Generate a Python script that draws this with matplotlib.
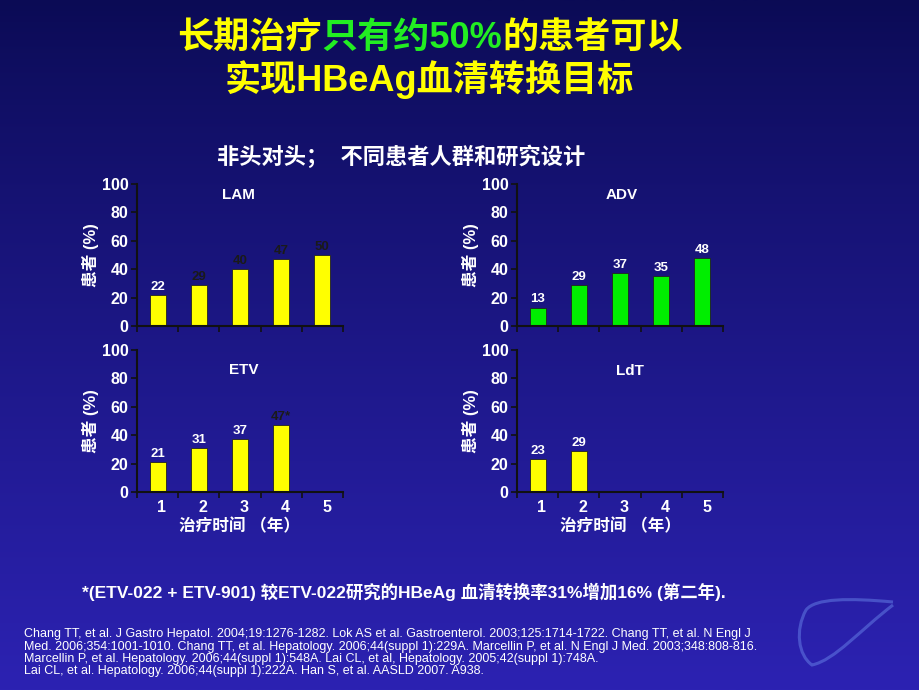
import matplotlib
matplotlib.use("Agg")
import matplotlib.pyplot as plt
import numpy as np
from matplotlib.path import Path
from matplotlib.patches import PathPatch

plt.rcParams['font.family'] = ['Liberation Sans', 'Noto Sans CJK SC', 'DejaVu Sans']
plt.rcParams['font.weight'] = 'bold'

# dados
anos = [1, 2, 3, 4, 5]
lam = [22, 29, 40, 47, 50]
adv = [13, 29, 37, 35, 48]
etv = [21, 31, 37, 47]
ldt = [23, 29]
lam_rot = ['22', '29', '40', '47', '50']
adv_rot = ['13', '29', '37', '35', '48']
etv_rot = ['21', '31', '37', '47*']
ldt_rot = ['23', '29']
lam_cor_rot = ['white', '#1a1a1a', '#1a1a1a', '#1a1a1a', '#1a1a1a']
etv_cor_rot = ['white', 'white', 'white', '#1a1a1a']

amarelo = '#ffff00'
verde = '#00ee00'

fig = plt.figure(figsize=(9.2, 6.9), dpi=100)

# fundo em degrade
bg = fig.add_axes([0, 0, 1, 1], zorder=-10)
grad = np.linspace(0, 1, 256).reshape(-1, 1)
top = np.array([11, 11, 85]) / 255
bot = np.array([44, 34, 178]) / 255
img = top + (bot - top) * grad[:, :, None] ** 0.9
bg.imshow(img, aspect='auto', extent=[0, 1, 0, 1], origin='upper')
bg.set_xlim(0, 1)
bg.set_ylim(0, 1)
bg.axis('off')

# desenho do figado (decoracao)
pts = [(893, 602), (850, 598), (815, 598), (806, 610),
       (795, 630), (798, 655), (812, 665),
       (835, 660), (860, 630), (893, 605)]
pts = [(x / 920, 1 - y / 690) for x, y in pts]
cods = [Path.MOVETO, Path.CURVE4, Path.CURVE4, Path.CURVE4,
        Path.CURVE4, Path.CURVE4, Path.CURVE4,
        Path.CURVE4, Path.CURVE4, Path.CURVE4]
bg.add_patch(PathPatch(Path(pts, cods), facecolor='none', edgecolor='#6f8ff0', lw=2.2, alpha=0.45))


def painel(rect, valores, rotulos, cores_rot, cor_barra, nome, nome_xy, xlabels):
    ax = fig.add_axes(rect)
    ax.set_facecolor('none')
    x = anos[:len(valores)]
    ax.bar(x, valores, width=0.39, color=cor_barra, edgecolor='#222222', linewidth=0.6)
    for xi, v, r, c in zip(x, valores, rotulos, cores_rot):
        ax.text(xi, v + 1.5, r, ha='center', va='bottom', color=c, fontsize=9.5, fontweight='bold')
    ax.set_xlim(0.5, 5.5)
    ax.set_ylim(0, 100)
    ax.set_yticks([0, 20, 40, 60, 80, 100])
    ax.set_xticks([0.5, 1.5, 2.5, 3.5, 4.5, 5.5])
    ax.set_xticklabels([])
    ax.set_xticks([a + 0.1 for a in anos], minor=True)
    if xlabels:
        ax.set_xticklabels([str(a) for a in anos], minor=True)
        ax.set_xlabel('治疗时间 （年）', color='white', fontsize=12, fontweight='bold', labelpad=2)
    ax.tick_params(axis='x', which='minor', length=0, labelcolor='white', labelsize=11.5, pad=6)
    ax.tick_params(axis='both', which='major', color='#111111', length=4, width=1.2)
    ax.tick_params(axis='y', labelcolor='white', labelsize=11.5, pad=2)
    ax.yaxis.get_major_ticks()[-1].tick1line.set_color('white')
    for t in ax.get_yticklabels():
        t.set_fontweight('bold')
    for t in ax.get_xticklabels(minor=True):
        t.set_fontweight('bold')
    for s in ['top', 'right']:
        ax.spines[s].set_visible(False)
    for s in ['left', 'bottom']:
        ax.spines[s].set_color('#111111')
        ax.spines[s].set_linewidth(1.5)
    ax.set_ylabel('患者 (%)', color='white', fontsize=12, fontweight='bold', labelpad=2)
    ax.text(nome_xy[0], nome_xy[1], nome, transform=ax.transAxes, ha='center', va='center',
            color='white', fontsize=11, fontweight='bold')
    return ax


w = 206 / 920
h = 142 / 690
painel([137 / 920, 1 - 326 / 690, w, h], lam, lam_rot, lam_cor_rot, amarelo, 'LAM', (0.49, 0.92), False)
painel([517 / 920, 1 - 326 / 690, w, h], adv, adv_rot, ['white'] * 5, verde, 'ADV', (0.51, 0.92), False)
painel([137 / 920, 1 - 492 / 690, w, h], etv, etv_rot, etv_cor_rot, amarelo, 'ETV', (0.52, 0.86), True)
painel([517 / 920, 1 - 492 / 690, w, h], ldt, ldt_rot, ['white'] * 2, amarelo, 'LdT', (0.55, 0.85), True)


# titulo com cores diferentes
def linha_colorida(y, partes, centro, tam):
    r = fig.canvas.get_renderer()
    textos = []
    for s, c in partes:
        t = fig.text(0, y, s, color=c, fontsize=tam, fontweight='bold', va='center', ha='left')
        textos.append(t)
    larg = [t.get_window_extent(r).width / fig.bbox.width for t in textos]
    x = centro - sum(larg) / 2
    for t, l in zip(textos, larg):
        t.set_x(x)
        x += l


linha_colorida(0.944, [('长期治疗', amarelo), ('只有约50%', '#22ee22'), ('的患者可以', amarelo)], 0.467, 26)
linha_colorida(0.884, [('实现HBeAg血清转换目标', amarelo)], 0.467, 26)

fig.text(0.436, 0.772, '非头对头；  不同患者人群和研究设计', color='white', fontsize=16,
         fontweight='bold', style='italic', ha='center', va='center')

fig.text(0.089, 0.142, '*(ETV-022 + ETV-901) 较ETV-022研究的HBeAg 血清转换率31%增加16% (第二年).',
         color='white', fontsize=12.5, fontweight='bold', ha='left', va='center')

refs = ('Chang TT, et al. J Gastro Hepatol. 2004;19:1276-1282. Lok AS et al. Gastroenterol. 2003;125:1714-1722. Chang TT, et al. N Engl J\n'
        'Med. 2006;354:1001-1010. Chang TT, et al. Hepatology. 2006;44(suppl 1):229A. Marcellin P, et al. N Engl J Med. 2003;348:808-816.\n'
        'Marcellin P, et al. Hepatology. 2006;44(suppl 1):548A. Lai CL, et al, Hepatology. 2005;42(suppl 1):748A.\n'
        'Lai CL, et al. Hepatology. 2006;44(suppl 1):222A. Han S, et al. AASLD 2007. A938.')
fig.text(0.026, 0.054, refs, color='white', fontsize=9.0, fontweight='normal', ha='left', va='center',
         linespacing=1.03)

fig.savefig('out.png', dpi=100)
